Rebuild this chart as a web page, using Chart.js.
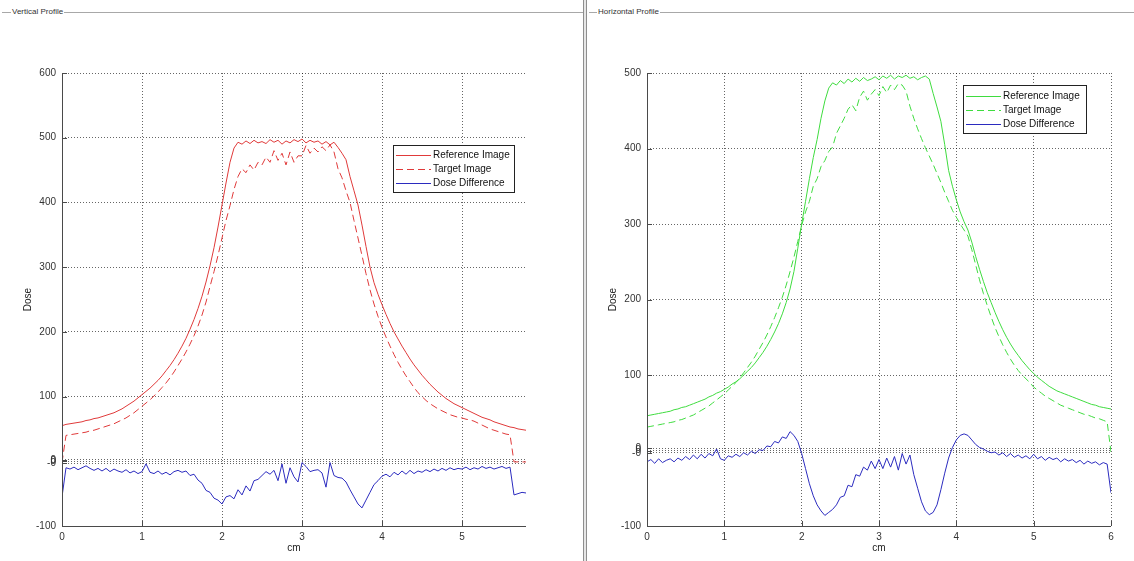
<!DOCTYPE html>
<html>
<head>
<meta charset="utf-8">
<script src="https://cdn.jsdelivr.net/npm/chart.js@4.4.1/dist/chart.umd.min.js"></script>
<style>
  html, body { margin: 0; padding: 0; background: #fff; }
  body { width: 1134px; height: 561px; position: relative; overflow: hidden; font-family: "Liberation Sans", Arial, sans-serif; }
  .frame-line { position: absolute; top: 12px; height: 0; border-top: 1px solid #a8a8a8; }
  .frame-title { position: absolute; top: 6px; font-size: 8px; line-height: 11px; color: #333; background: #fff; padding: 0 1px; }
  .divider { position: absolute; left: 583px; top: 0; width: 2px; height: 561px; background: #e6e6e6; border-left: 1px solid #8e8e8e; border-right: 1px solid #8e8e8e; }
  canvas { position: absolute; top: 0; }
</style>
</head>
<body>
<div class="frame-line" style="left:2px; width:581px;"></div>
<div class="frame-title" style="left:11px;">Vertical Profile</div>
<div class="frame-line" style="left:589px; width:545px;"></div>
<div class="frame-title" style="left:597px;">Horizontal Profile</div>
<div class="divider"></div>
<canvas id="vert" width="583" height="561" style="left:0;"></canvas>
<canvas id="horz" width="546" height="561" style="left:588px;"></canvas>
<script>
// Sampling interval of the profiles along the scan direction (cm)
const STEP = 0.05;

// ---- Vertical profile (0 .. 5.8 cm) ----
const vertReference = [
  55,57,58,59,60,61,63,64,66,67,
  69,71,73,75,78,81,85,89,93,98,
  103,108,113,119,125,132,140,148,157,167,
  178,190,204,219,236,255,277,302,330,362,
  396,430,462,484,493,490,495,491,496,492,
  494,491,497,493,496,490,495,492,497,494,
  498,492,496,493,495,490,494,489,493,485,
  476,466,440,418,396,365,332,300,276,258,
  242,227,213,200,189,178,168,158,149,141,
  133,126,119,113,107,102,97,93,89,86,
  83,80,77,74,71,68,66,64,61,59,
  57,55,53,52,50,49,48
];
const vertTarget = [
  -2,40,41,42,43,44,45,47,48,50,
  52,54,56,58,61,64,67,71,75,80,
  85,90,95,101,107,114,121,129,138,148,
  158,169,181,194,209,226,246,270,293,318,
  345,372,395,420,440,452,446,458,450,462,
  458,470,462,480,465,476,458,478,462,472,
  472,488,476,484,478,486,480,489,478,452,
  438,418,400,372,345,318,290,265,243,224,
  207,192,178,165,153,142,132,123,114,106,
  100,94,89,85,81,78,75,72,70,68,
  67,65,64,62,59,56,53,50,48,46,
  44,42,41,-1,-1,-1,-1
];
const vertDifference = [
  -55,-10,-12,-9,-13,-10,-7,-11,-14,-11,
  -15,-11,-16,-12,-15,-17,-13,-18,-15,-19,
  -16,-4,-17,-19,-15,-20,-17,-21,-16,-14,
  -17,-15,-22,-20,-29,-34,-45,-48,-57,-60,
  -66,-55,-53,-58,-44,-52,-38,-46,-30,-28,
  -22,-16,-20,-14,-30,-4,-34,-10,-24,-32,
  -2,-8,-16,-14,-13,-18,-40,-2,-22,-25,
  -26,-32,-44,-55,-66,-72,-60,-48,-36,-30,
  -23,-20,-24,-17,-21,-15,-20,-14,-19,-15,
  -17,-13,-16,-12,-15,-11,-14,-10,-13,-11,
  -12,-9,-13,-10,-12,-8,-11,-9,-12,-10,
  -8,-11,-9,-52,-50,-48,-49
];
const vertXTicks = [0, 1, 2, 3, 4, 5];
const vertYTicks = [-100, -3, 0, 2, 100, 200, 300, 400, 500, 600];

// ---- Horizontal profile (0 .. 6 cm) ----
const horzReference = [
  46,47,48,49,50,51,52,54,55,57,
  58,60,62,64,66,68,71,73,76,78,
  81,84,88,91,95,100,105,110,116,123,
  130,138,147,157,168,181,196,214,237,268,
  300,330,360,388,412,440,463,480,487,484,
  490,486,492,488,493,489,494,490,492,495,
  491,496,493,497,492,496,494,497,493,495,
  491,494,496,492,473,455,436,405,371,350,
  332,316,303,292,276,257,240,224,209,196,
  183,171,160,150,141,133,126,119,113,107,
  102,97,93,89,85,82,79,77,75,73,
  71,69,67,65,63,61,60,58,57,56,
  55
];
const horzTarget = [
  31,32,33,34,35,36,37,38,40,41,
  43,45,47,50,53,56,59,63,67,71,
  75,80,85,90,96,103,110,117,125,134,
  143,153,164,176,189,203,219,237,256,277,
  298,316,330,350,360,376,384,396,402,420,
  430,440,452,458,450,468,476,464,472,478,
  470,482,474,484,478,486,484,476,456,440,
  426,413,401,390,379,367,355,342,330,318,
  309,300,292,284,266,246,226,208,192,177,
  163,151,140,130,121,113,106,100,95,90,
  84,80,76,72,69,66,63,60,58,56,
  54,52,50,48,47,45,43,42,40,38,
  -2
];
const horzDifference = [
  -15,-12,-17,-11,-16,-13,-11,-15,-10,-13,
  -8,-12,-6,-11,-5,-10,-4,-7,2,-11,
  -13,-7,-9,-5,-8,-3,-6,-1,-4,1,
  0,6,5,12,10,18,16,25,20,12,
  -4,-24,-44,-60,-72,-80,-86,-82,-78,-72,
  -62,-60,-46,-48,-32,-34,-22,-26,-14,-24,
  -12,-24,-10,-22,-8,-26,-4,-18,-6,-32,
  -50,-68,-80,-85,-82,-72,-52,-30,-10,4,
  14,20,22,20,14,8,4,2,-1,-3,
  -2,-6,-3,-8,-4,-9,-6,-10,-7,-11,
  -5,-11,-8,-13,-9,-12,-10,-15,-11,-14,
  -12,-16,-13,-18,-14,-17,-15,-19,-16,-18,
  -56
];
const horzXTicks = [0, 1, 2, 3, 4, 5, 6];
const horzYTicks = [-100, -3, 0, 3, 100, 200, 300, 400, 500];

const seriesNames = ['Reference Image', 'Target Image', 'Dose Difference'];

const FONT = "'Liberation Sans', Arial, sans-serif";
const TICK_COLOR = '#333';
const AXIS_COLOR = '#4a4a4a';
const BLUE = '#2b2bbf';

function toPoints(values) {
  return values.map((v, i) => ({ x: +(i * STEP).toFixed(2), y: v }));
}

function yLabel(v) {
  if (Math.abs(v) < 10) return v < 0 ? '-0' : '0';
  return String(v);
}

// Solid left/bottom axes with short inward tick marks
const axesPlugin = {
  id: 'insideAxes',
  afterDatasetsDraw(chart) {
    const { ctx, chartArea: a, scales } = chart;
    ctx.save();
    ctx.strokeStyle = AXIS_COLOR;
    ctx.lineWidth = 1;
    ctx.beginPath();
    ctx.moveTo(a.left + 0.5, a.top);
    ctx.lineTo(a.left + 0.5, a.bottom + 0.5);
    ctx.lineTo(a.right, a.bottom + 0.5);
    scales.x.ticks.forEach(t => {
      const px = Math.round(scales.x.getPixelForValue(t.value)) + 0.5;
      ctx.moveTo(px, a.bottom);
      ctx.lineTo(px, a.bottom - 5);
    });
    scales.y.ticks.forEach(t => {
      const py = Math.round(scales.y.getPixelForValue(t.value)) + 0.5;
      ctx.moveTo(a.left, py);
      ctx.lineTo(a.left + 5, py);
    });
    ctx.stroke();
    ctx.restore();
  }
};

// Boxed legend placed inside the plot area
const boxLegendPlugin = {
  id: 'boxLegend',
  afterDraw(chart, args, opts) {
    const { ctx } = chart;
    const { x, y, w, h, rowH, firstRow } = opts;
    ctx.save();
    ctx.fillStyle = '#fff';
    ctx.fillRect(x, y, w, h);
    ctx.strokeStyle = '#222';
    ctx.lineWidth = 1;
    ctx.strokeRect(x + 0.5, y + 0.5, w, h);
    ctx.font = '10px ' + FONT;
    ctx.textBaseline = 'middle';
    chart.data.datasets.forEach((ds, i) => {
      const style = chart.getDatasetMeta(i).dataset.options;
      const ry = Math.round(y + firstRow + i * rowH) + 0.5;
      ctx.lineWidth = 1;
      ctx.strokeStyle = style.borderColor;
      ctx.setLineDash(style.borderDash || []);
      ctx.beginPath();
      ctx.moveTo(x + 3, ry);
      ctx.lineTo(x + 38, ry);
      ctx.stroke();
      ctx.setLineDash([]);
      ctx.fillStyle = '#111';
      ctx.fillText(ds.label, x + 40, ry);
    });
    ctx.restore();
  }
};

function makeChart(id, cfg) {
  const datasets = [
    { label: seriesNames[0], data: toPoints(cfg.reference), borderColor: cfg.color, borderWidth: 1 },
    { label: seriesNames[1], data: toPoints(cfg.target), borderColor: cfg.color, borderWidth: 1, borderDash: [7, 4] },
    { label: seriesNames[2], data: toPoints(cfg.difference), borderColor: BLUE, borderWidth: 1 }
  ];
  return new Chart(document.getElementById(id), {
    type: 'line',
    data: { datasets },
    options: {
      responsive: false,
      animation: false,
      devicePixelRatio: 1,
      layout: { padding: { left: 0, top: 73, right: cfg.padRight, bottom: 0 } },
      elements: { point: { radius: 0 }, line: { tension: 0 } },
      plugins: {
        legend: { display: false },
        tooltip: { enabled: false },
        boxLegend: cfg.legend
      },
      scales: {
        x: {
          type: 'linear',
          min: 0,
          max: cfg.xMax,
          afterBuildTicks: s => { s.ticks = cfg.xTicks.map(v => ({ value: v })); },
          afterFit: s => { s.height = 35; },
          grid: { color: 'rgba(0,0,0,0.6)', lineWidth: 1, drawTicks: false },
          border: { display: false, dash: [1, 2] },
          ticks: { padding: 5, color: TICK_COLOR, font: { family: FONT, size: 10 }, autoSkip: false, maxRotation: 0 },
          title: { display: true, text: 'cm', color: '#222', font: { family: FONT, size: 10 }, padding: { top: 0, bottom: 7 } }
        },
        y: {
          type: 'linear',
          min: -100,
          max: cfg.yMax,
          afterBuildTicks: s => { s.ticks = cfg.yTicks.map(v => ({ value: v })); },
          afterFit: s => { s.width = cfg.yWidth; },
          grid: { color: 'rgba(0,0,0,0.6)', lineWidth: 1, drawTicks: false },
          border: { display: false, dash: [1, 2] },
          ticks: { padding: 6, color: TICK_COLOR, font: { family: FONT, size: 10 }, autoSkip: false, callback: v => yLabel(v) },
          title: { display: true, text: 'Dose', color: '#222', font: { family: FONT, size: 10 }, padding: { top: cfg.yTitlePad, bottom: 0 } }
        }
      }
    },
    plugins: [axesPlugin, boxLegendPlugin]
  });
}

makeChart('vert', {
  reference: vertReference, target: vertTarget, difference: vertDifference,
  color: '#e03a3a', xMax: 5.8, yMax: 600, xTicks: vertXTicks, yTicks: vertYTicks,
  padRight: 57, yWidth: 62, yTitlePad: 22,
  legend: { x: 393, y: 145, w: 121, h: 47, rowH: 14, firstRow: 10 }
});

makeChart('horz', {
  reference: horzReference, target: horzTarget, difference: horzDifference,
  color: '#3fdc3f', xMax: 6, yMax: 500, xTicks: horzXTicks, yTicks: horzYTicks,
  padRight: 23, yWidth: 59, yTitlePad: 19,
  legend: { x: 375, y: 85, w: 123, h: 48, rowH: 14, firstRow: 11 }
});
</script>
</body>
</html>
